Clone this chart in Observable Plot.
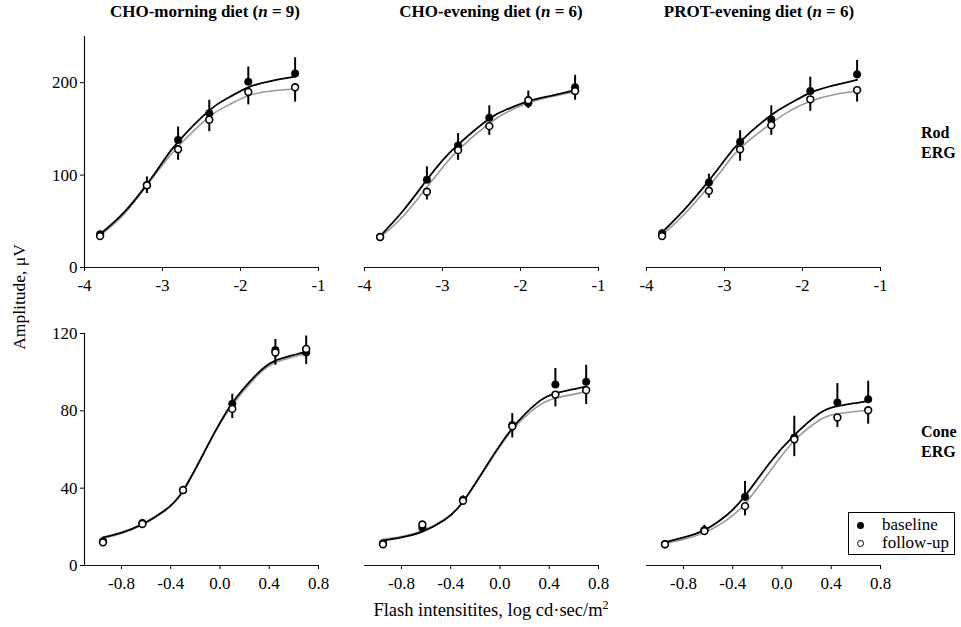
<!DOCTYPE html>
<html><head><meta charset="utf-8">
<script src="https://cdn.jsdelivr.net/npm/d3@7"></script>
<script src="https://cdn.jsdelivr.net/npm/@observablehq/plot@0.6"></script>
<style>
body{margin:0;background:#fff;}
#fig{position:relative;width:961px;height:627px;font-family:"Liberation Serif","Times New Roman",serif;color:#000;overflow:hidden;background:#fff}
.abs{position:absolute;white-space:nowrap}
.title{font-weight:bold;font-size:17px;line-height:17px;text-align:center;width:300px}
.rowlab{font-weight:bold;font-size:16px;line-height:20px}
.panel{position:absolute}
.legend{border:1px solid #000;background:#fff}
.lrow{position:absolute;left:0;font-size:17px;line-height:18px;height:18px}
.sym{position:absolute;width:7px;height:7px;border-radius:50%;box-sizing:border-box}
</style></head>
<body>
<div id="fig"></div>
<script>
// ---------- data ----------
const panelNames = ["CHO-morning diet", "CHO-evening diet", "PROT-evening diet"];
const panelN = [9, 6, 6];
const rowNames = ["Rod", "Cone"];
const seriesNames = ["baseline", "follow-up"];

const rodX = [-3.8, -3.2, -2.8, -2.4, -1.9, -1.3];
const coneX = [-0.95, -0.63, -0.3, 0.1, 0.45, 0.7];
const rodXTicks = [-4, -3, -2, -1];
const rodYTicks = [0, 100, 200];
const coneXTicks = [-0.8, -0.4, 0, 0.4, 0.8];
const coneYTicks = [0, 40, 80, 120];

const rodBaseline = [[36, 89, 138, 167, 201, 210], [33, 95, 132, 162, 178, 195], [37, 92, 136, 160, 191, 209]];
const rodBaselineErr = [[3, 9, 14, 14, 16, 17], [3, 14, 13, 13, 13, 13], [4, 9, 12, 15, 15, 15]];
const rodFollowup = [[34, 89, 128, 160, 190, 195], [33, 82, 127, 153, 181, 191], [34, 83, 128, 154, 182, 192]];
const rodFollowupErr = [[3, 9, 12, 13, 14, 16], [3, 9, 11, 10, 9, 10], [4, 8, 13, 11, 13, 13]];

const coneBaseline = [[12.5, 22, 39, 83.6, 111.4, 110.2], [11.5, 19.5, 34, 72.6, 93.6, 95], [11, 18.3, 35.5, 66.2, 84.3, 86]];
const coneBaselineErr = [[1, 1.5, 2, 5, 5.5, 8.5], [1, 1.5, 2, 6, 8.3, 8.6], [1, 2.5, 8, 11, 9.8, 9.3]];
const coneFollowup = [[12, 21.5, 39, 81, 110.2, 112], [11, 21.2, 33.5, 72, 88.4, 90.7], [11, 17.8, 30.7, 65.3, 76.6, 80.3]];
const coneFollowupErr = [[1, 1.5, 2, 5, 6.6, 8], [1, 1.5, 2, 6, 6.4, 7.4], [1, 1.5, 5, 9, 5.2, 7.2]];

// fitted curves
const rodCurveX = [-3.8, -3.5, -3.2, -3.0, -2.8, -2.4, -2.15, -1.9, -1.6, -1.3];
const rodCurveBaseline = [[36, 59, 90, 114, 136, 170, 184, 195, 202, 206.5], [34, 62, 95, 116, 133, 161, 172, 180, 186, 192], [38, 64, 94, 116, 136, 165, 178, 189, 197, 203]];
const rodCurveFollowup = [[34.5, 57, 89, 111, 131, 163, 176, 186, 191, 193.5], [32.5, 56, 87, 108, 127, 156, 169, 178, 185, 190], [35, 59, 88, 109, 129, 156, 170, 180, 187, 191]];
const coneCurveX = [-0.95, -0.8, -0.63, -0.45, -0.3, -0.1, 0.1, 0.3, 0.45, 0.7];
const coneCurveBaseline = [[14.5, 17, 21.4, 28.5, 38.6, 62, 84, 99, 106, 110.5], [12.8, 14.5, 17.5, 23.5, 33, 52.5, 71, 84, 89, 92.5], [11.9, 14.5, 18.3, 26, 36, 53, 67.4, 78.5, 82.4, 85]];
const coneCurveFollowup = [[14, 16.5, 21, 28, 38.5, 62, 83, 98, 105, 109.5], [13.5, 15, 18, 24, 33, 52, 70, 82, 86.5, 89.8], [11.4, 13.5, 17, 23.5, 32, 48.5, 64.5, 75, 78.5, 80.3]];

// ---------- layout ----------
const fig = document.getElementById("fig");
const plotLeft = [84, 364, 646];
const plotTop = [36, 333];
const areaW = 234, areaH = [231, 232];
const mL = 40, mR = 16, mT = 10, mB = 30;

function panel(row, col) {
  const rod = row === 0;
  const xs = rod ? rodX : coneX;
  const b = (rod ? rodBaseline : coneBaseline)[col];
  const be = (rod ? rodBaselineErr : coneBaselineErr)[col];
  const f = (rod ? rodFollowup : coneFollowup)[col];
  const fe = (rod ? rodFollowupErr : coneFollowupErr)[col];
  const cx = rod ? rodCurveX : coneCurveX;
  const cb = (rod ? rodCurveBaseline : coneCurveBaseline)[col];
  const cf = (rod ? rodCurveFollowup : coneCurveFollowup)[col];
  const pts = xs.map((x, i) => ({x, b: b[i], bTop: b[i] + be[i], f: f[i], fBot: f[i] - fe[i]}));
  const curve = cx.map((x, i) => ({x, b: cb[i], f: cf[i]}));
  const xDom = rod ? [-4, -1] : [-1.1, 0.8];
  const marks = [
    Plot.ruleY([0], {stroke: "#111", strokeWidth: 1.2}),
    Plot.line(curve, {x: "x", y: "f", stroke: "#999", strokeWidth: 1.6, curve: "natural"}),
    Plot.line(curve, {x: "x", y: "b", stroke: "#000", strokeWidth: 1.8, curve: "natural"}),
    Plot.ruleX(pts, {x: "x", y1: "b", y2: "bTop", stroke: "#000", strokeWidth: 2}),
    Plot.ruleX(pts, {x: "x", y1: "f", y2: "fBot", stroke: "#000", strokeWidth: 2}),
    Plot.dot(pts, {x: "x", y: "b", r: 3.8, fill: "#000", stroke: "#000", strokeWidth: 0.5}),
    Plot.dot(pts, {x: "x", y: "f", r: 3.4, fill: "#fff", stroke: "#000", strokeWidth: 1.6})
  ];
  if (col === 0) marks.unshift(Plot.ruleX([xDom[0]], {stroke: "#111", strokeWidth: 1.2}));
  const p = Plot.plot({
    width: mL + areaW + mR,
    height: mT + areaH[row] + mB,
    marginLeft: mL, marginRight: mR, marginTop: mT, marginBottom: mB,
    style: {fontFamily: "'Liberation Serif', serif", fontSize: "17px", color: "#000", background: "transparent", overflow: "visible"},
    x: {domain: xDom, ticks: rod ? rodXTicks : coneXTicks,
        tickFormat: rod ? (d => String(d)) : (d => d.toFixed(1)),
        tickSize: 4, tickPadding: 7, label: null},
    y: {domain: rod ? [0, 250] : [0, 120], ticks: rod ? rodYTicks : coneYTicks,
        tickSize: 4, tickPadding: 3, label: null, axis: col === 0 ? "left" : null},
    marks
  });
  p.classList.add("panel");
  p.style.left = (plotLeft[col] - mL) + "px";
  p.style.top = (plotTop[row] - mT) + "px";
  fig.appendChild(p);
}

for (let r = 0; r < 2; r++) for (let c = 0; c < 3; c++) panel(r, c);

// ---------- text ----------
function addDiv(cls, html, css) {
  const d = document.createElement("div");
  d.className = "abs " + cls;
  d.innerHTML = html;
  Object.assign(d.style, css);
  fig.appendChild(d);
  return d;
}
const titleCx = [205, 491, 759];
panelNames.forEach((name, i) => {
  addDiv("title", `${name} (<i>n</i> = ${panelN[i]})`, {left: (titleCx[i] - 150) + "px", top: "3px"});
});
addDiv("rowlab", `${rowNames[0]}<br>ERG`, {left: "921px", top: "123px"});
addDiv("rowlab", `${rowNames[1]}<br>ERG`, {left: "921px", top: "422px"});
addDiv("", "Amplitude, μV", {left: "-81px", top: "287px", width: "200px", height: "20px", lineHeight: "20px",
  fontSize: "17.5px", textAlign: "center", transform: "rotate(-90deg)"});
addDiv("", "Flash intensitites, log cd·sec/m<sup style='font-size:12px;line-height:0'>2</sup>",
  {left: "291px", top: "601px", width: "400px", textAlign: "center", fontSize: "18.5px", lineHeight: "18.5px"});

// legend
const leg = addDiv("legend", "", {left: "848px", top: "512px", width: "105px", height: "41px"});
seriesNames.forEach((s, i) => {
  const row = document.createElement("div");
  row.className = "lrow";
  row.style.top = (3 + i * 18) + "px";
  row.style.width = "105px";
  const sym = document.createElement("span");
  sym.className = "sym";
  sym.style.left = "8px";
  sym.style.top = "6px";
  if (i === 0) { sym.style.background = "#000"; }
  else { sym.style.background = "#fff"; sym.style.border = "1.5px solid #000"; }
  const t = document.createElement("span");
  t.style.position = "absolute";
  t.style.left = "33px";
  t.textContent = s;
  row.appendChild(sym); row.appendChild(t);
  leg.appendChild(row);
});
</script>
</body></html>
